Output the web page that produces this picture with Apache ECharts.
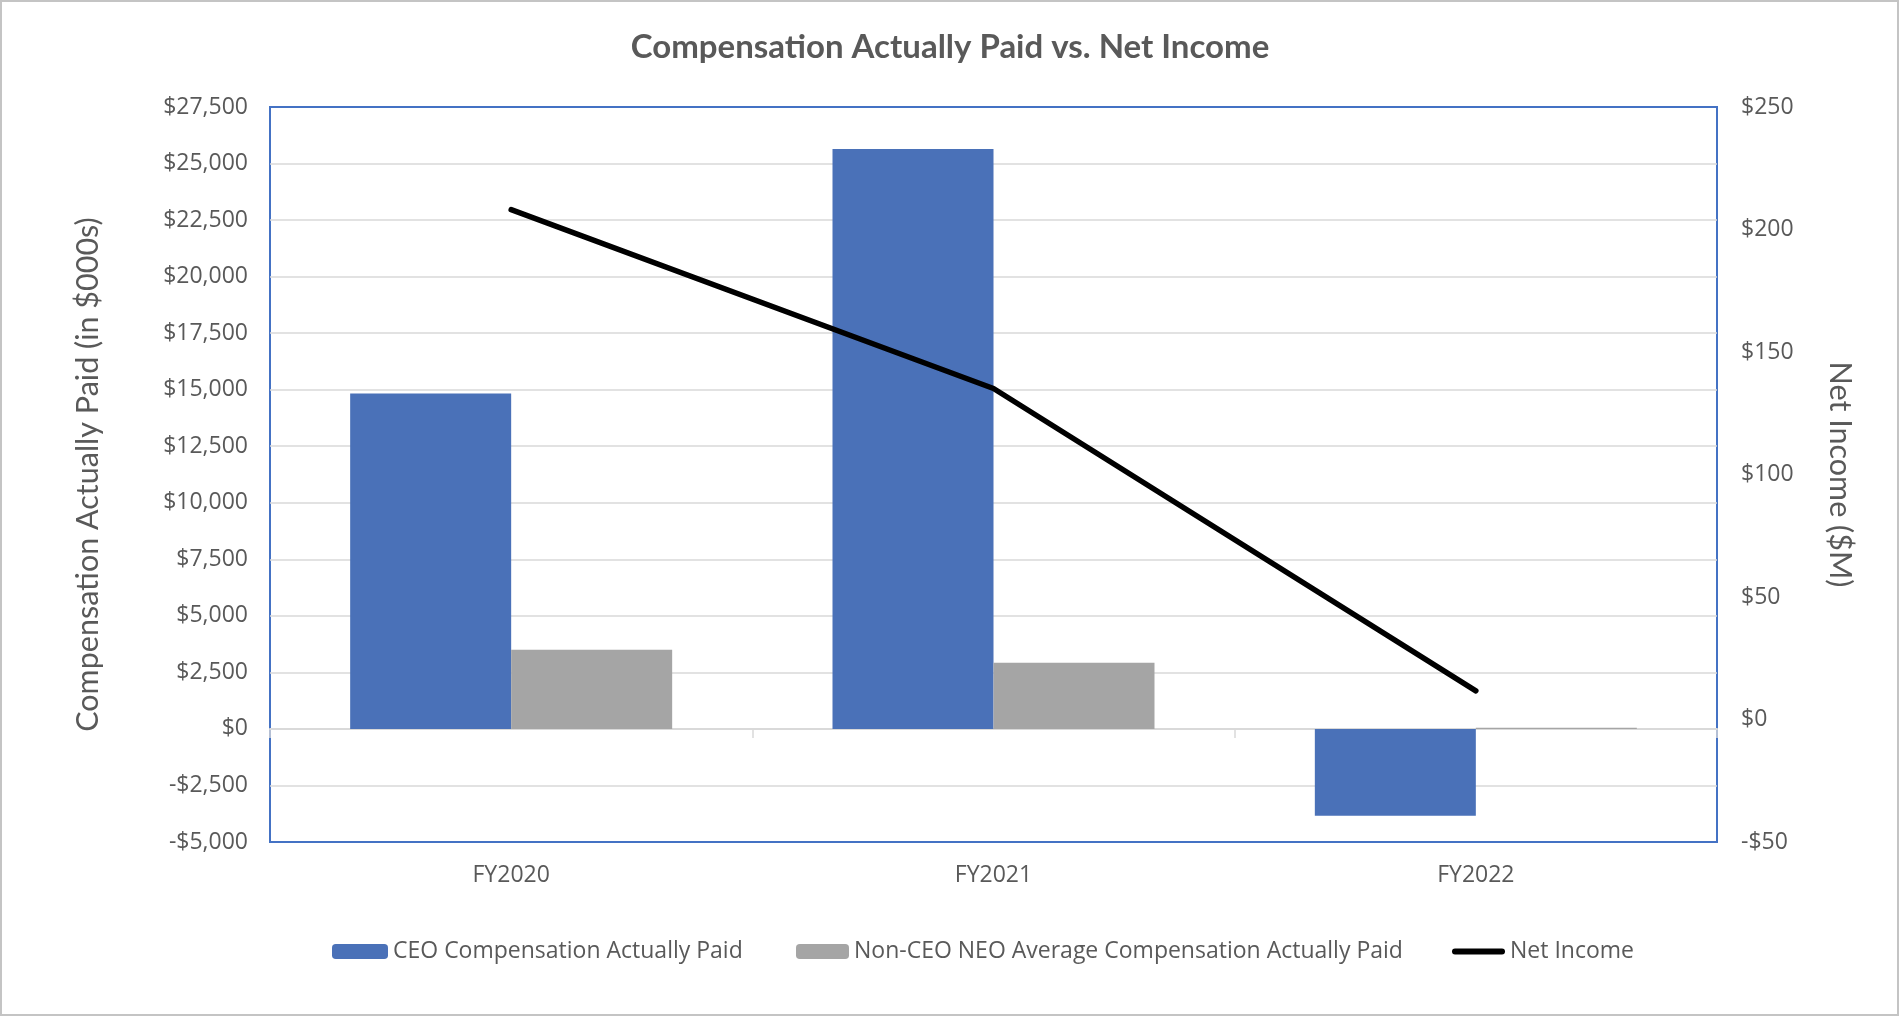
<!DOCTYPE html>
<html>
<head>
<meta charset="utf-8">
<script src="https://cdn.jsdelivr.net/npm/echarts@6/dist/echarts.min.js"></script>
<style>
html,body{margin:0;padding:0;background:#fff;}
#main{width:1900px;height:1017px;}
</style>
</head>
<body>
<div id="main"></div>
<script>
var categories = ['FY2020', 'FY2021', 'FY2022'];
var ceoCap = [14830, 25640, -3835];
var neoCap = [3500, 2925, 50];
var netIncome = [208.1, 135.1, 11.7];

var leftTicks = {min: -5000, max: 27500, interval: 2500};
var rightTicks = {min: -50, max: 250, interval: 50};

var seriesNames = ['CEO Compensation Actually Paid', 'Non-CEO NEO Average Compensation Actually Paid', 'Net Income'];

function money(v) {
  return (v < 0 ? '-' : '') + '$' + Math.abs(v).toLocaleString('en-US');
}

var txt = '#595959';
var labelFont = {color: txt, fontFamily: 'Open Sans', fontSize: 23};

var chart = echarts.init(document.getElementById('main'), null, {renderer: 'canvas'});
chart.setOption({
  animation: false,
  backgroundColor: '#ffffff',
  title: {
    text: 'Compensation Actually Paid vs. Net Income',
    left: 'center',
    top: 31,
    padding: 0,
    textStyle: {color: txt, fontFamily: 'Lato', fontWeight: 'bold', fontSize: 33}
  },
  graphic: [{
    type: 'rect', silent: true, z: -10,
    shape: {x: 1, y: 1, width: 1897, height: 1014},
    style: {fill: 'none', stroke: '#c4c4c4', lineWidth: 2}
  }],
  legend: [
    {data: [seriesNames[0]], left: 332, top: 940, itemWidth: 56, itemHeight: 15, textStyle: labelFont, selectedMode: false, padding: 0},
    {data: [seriesNames[1]], left: 796, top: 940, itemWidth: 53, itemHeight: 15, textStyle: labelFont, selectedMode: false, padding: 0},
    {data: [{name: seriesNames[2], icon: 'path://M3,0 L50,0 A3,3 0 0 1 50,6 L3,6 A3,3 0 0 1 3,0 Z'}],
     left: 1452, top: 940, itemWidth: 53, itemHeight: 6, textStyle: labelFont, selectedMode: false, padding: 0,
     itemStyle: {color: '#000'}}
  ],
  grid: {
    left: 270, right: 183, top: 107, bottom: 175,
    show: true, borderColor: '#4472C4', borderWidth: 2, backgroundColor: 'transparent',
    containLabel: false
  },
  xAxis: [{
    type: 'category', data: categories, position: 'bottom',
    axisLine: {show: false, onZero: false},
    axisTick: {show: false},
    axisLabel: {show: true, interval: 0, margin: 22, color: txt, fontFamily: 'Open Sans', fontSize: 23},
    splitLine: {show: false}
  }, {
    type: 'category', data: categories, position: 'top',
    axisLine: {show: true, onZero: true, onZeroAxisIndex: 0, lineStyle: {color: '#d9d9d9', width: 2}},
    axisTick: {show: true, inside: true, length: 9, lineStyle: {color: '#d9d9d9', width: 1.5}},
    axisLabel: {show: false},
    splitLine: {show: false}
  }],
  yAxis: [{
    type: 'value', position: 'left',
    min: leftTicks.min, max: leftTicks.max, interval: leftTicks.interval,
    name: 'Compensation Actually Paid (in $000s)', nameLocation: 'middle', nameRotate: 90, nameGap: 166,
    nameTextStyle: {color: txt, fontFamily: 'Lato', fontSize: 30.5},
    axisLine: {show: false}, axisTick: {show: false},
    axisLabel: {formatter: money, margin: 22, color: txt, fontFamily: 'Open Sans', fontSize: 23},
    splitLine: {show: true, showMinLine: false, showMaxLine: false, lineStyle: {color: '#d9d9d9', width: 1.5}}
  }, {
    type: 'value', position: 'right',
    min: rightTicks.min, max: rightTicks.max, interval: rightTicks.interval,
    name: 'Net Income ($M)', nameLocation: 'middle', nameRotate: -90, nameGap: 107,
    nameTextStyle: {color: txt, fontFamily: 'Lato', fontSize: 30.5},
    axisLine: {show: false, onZero: false}, axisTick: {show: false},
    axisLabel: {formatter: money, margin: 24, color: txt, fontFamily: 'Open Sans', fontSize: 23},
    splitLine: {show: false}
  }],
  series: [{
    name: seriesNames[0], type: 'bar', xAxisIndex: 0, yAxisIndex: 0,
    data: ceoCap, barWidth: 161, barGap: '0%',
    itemStyle: {color: '#4A71B8'}, z: 2
  }, {
    name: seriesNames[1], type: 'bar', xAxisIndex: 0, yAxisIndex: 0,
    data: neoCap, barWidth: 161, barGap: '0%',
    itemStyle: {color: '#A5A5A5'}, z: 2
  }, {
    name: seriesNames[2], type: 'line', xAxisIndex: 0, yAxisIndex: 1,
    data: netIncome, symbol: 'none', showSymbol: false,
    lineStyle: {color: '#000000', width: 5.5, cap: 'round', join: 'round'},
    itemStyle: {color: '#000000'}, z: 5
  }]
});
</script>
</body>
</html>
